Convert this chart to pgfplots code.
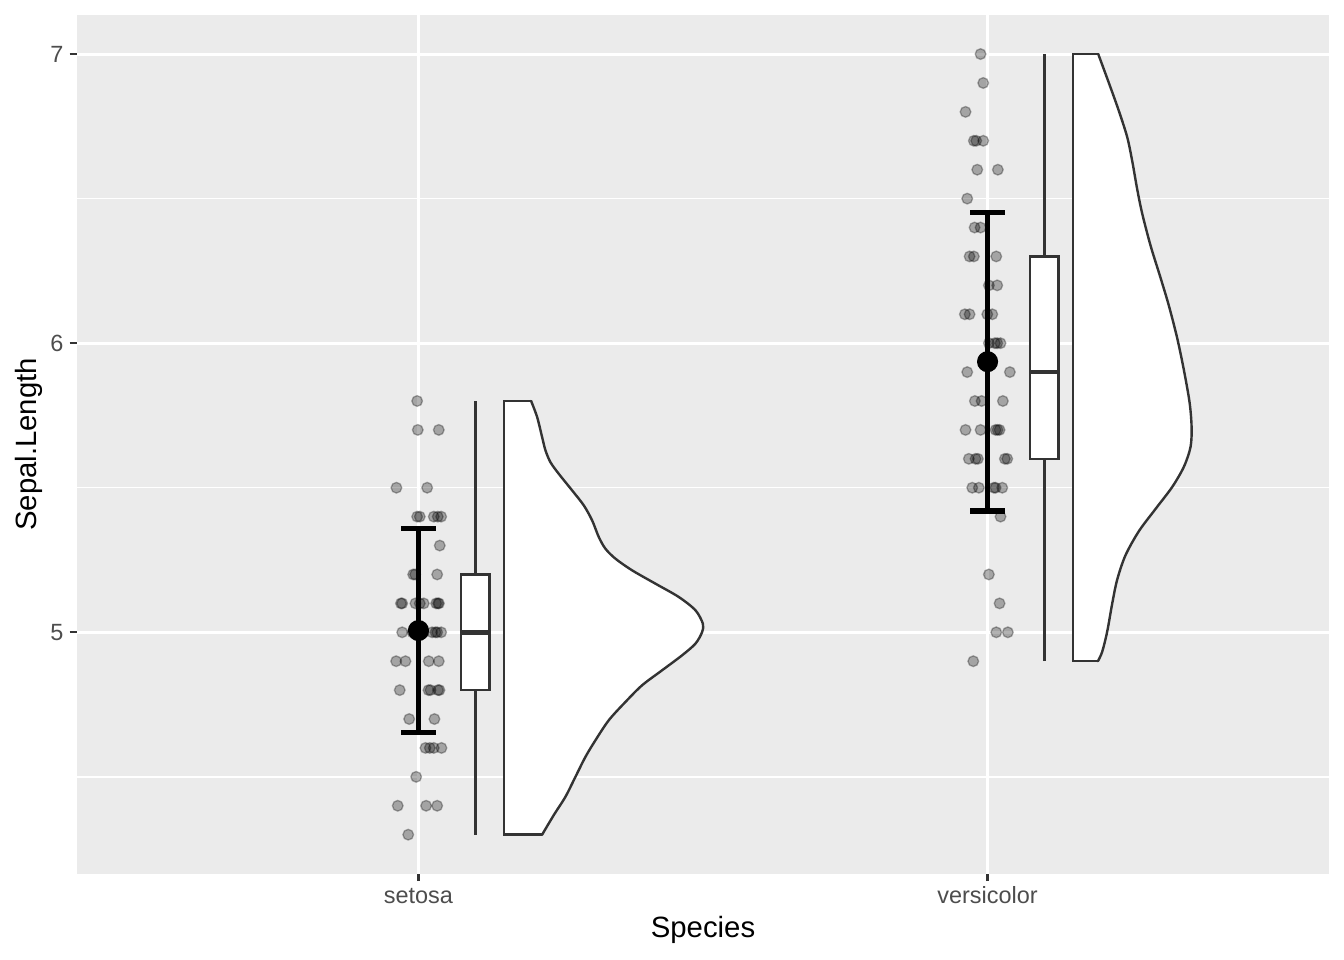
\documentclass[border=0pt]{standalone}
\usepackage{pgfplots}
\pgfplotsset{compat=1.18}
\usepackage{fontspec}
\setmainfont{Liberation Sans}
\definecolor{panelbg}{HTML}{EBEBEB}
\definecolor{grey30}{HTML}{4D4D4D}
\definecolor{grey20}{HTML}{333333}

\pgfplotstableread{
x y
0.9977 5.8
0.9988 5.7
1.0357 5.7
0.9613 5.5
1.0153 5.5
0.9977 5.4
1.0023 5.4
1.0269 5.4
1.0339 5.4
1.0399 5.4
1.0374 5.3
0.9907 5.2
0.9942 5.2
1.0329 5.2
0.9692 5.1
0.9714 5.1
0.9947 5.1
1.0023 5.1
1.0093 5.1
1.0311 5.1
1.0343 5.1
1.0360 5.1
0.9714 5.0
0.9895 5.0
1.0000 5.0
1.0088 5.0
1.0240 5.0
1.0298 5.0
1.0329 5.0
1.0399 5.0
0.9608 4.9
0.9772 4.9
1.0181 4.9
1.0357 4.9
0.9671 4.8
1.0176 4.8
1.0211 4.8
1.0343 4.8
1.0369 4.8
0.9837 4.7
1.0281 4.7
1.0123 4.6
1.0199 4.6
1.0269 4.6
1.0404 4.6
0.9960 4.5
0.9636 4.4
1.0135 4.4
1.0329 4.4
0.9820 4.3
}\setosapts

\pgfplotstableread{
x y
1.9877 7.0
1.9924 6.9
1.9613 6.8
1.9759 6.7
1.9801 6.7
1.9924 6.7
1.9819 6.6
2.0181 6.6
1.9643 6.5
1.9772 6.4
1.9877 6.4
1.9684 6.3
1.9759 6.3
2.0153 6.3
2.0023 6.2
2.0170 6.2
1.9601 6.1
1.9684 6.1
1.9995 6.1
2.0083 6.1
2.0023 6.0
2.0128 6.0
2.0170 6.0
2.0228 6.0
1.9643 5.9
2.0392 5.9
1.9777 5.8
1.9895 5.8
2.0269 5.8
1.9613 5.7
1.9877 5.7
2.0141 5.7
2.0176 5.7
2.0211 5.7
1.9671 5.6
1.9789 5.6
1.9830 5.6
2.0304 5.6
2.0346 5.6
1.9731 5.5
1.9847 5.5
2.0111 5.5
2.0141 5.5
2.0258 5.5
2.0228 5.4
2.0023 5.2
2.0211 5.1
2.0153 5.0
2.0357 5.0
1.9749 4.9
}\versipts

% full half-violin outlines (left edge + density side)
\pgfplotstableread{
x y
1.150 5.8
1.198 5.8
1.2086 5.744
1.2173 5.675
1.2232 5.629
1.2320 5.588
1.2466 5.548
1.2701 5.4905
1.2906 5.4387
1.3052 5.3869
1.3169 5.3293
1.3286 5.289
1.3462 5.2545
1.3755 5.2142
1.4165 5.1681
1.4575 5.122
1.4868 5.076
1.4997 5.030
1.4985 5.001
1.4868 4.961
1.4634 4.9206
1.4282 4.8687
1.3931 4.8169
1.3638 4.7593
1.3345 4.696
1.3111 4.6269
1.2935 4.5694
1.2759 4.5003
1.2583 4.4312
1.2378 4.3679
1.2173 4.3
1.150 4.3
}\setosafull

\pgfplotstableread{
x y
1.198 5.8
1.2086 5.744
1.2173 5.675
1.2232 5.629
1.2320 5.588
1.2466 5.548
1.2701 5.4905
1.2906 5.4387
1.3052 5.3869
1.3169 5.3293
1.3286 5.289
1.3462 5.2545
1.3755 5.2142
1.4165 5.1681
1.4575 5.122
1.4868 5.076
1.4997 5.030
1.4985 5.001
1.4868 4.961
1.4634 4.9206
1.4282 4.8687
1.3931 4.8169
1.3638 4.7593
1.3345 4.696
1.3111 4.6269
1.2935 4.5694
1.2759 4.5003
1.2583 4.4312
1.2378 4.3679
1.2173 4.3
}\setosaviolin

\pgfplotstableread{
x y
2.150 7.0
2.1945 7.0
2.2132 6.900
2.2308 6.803
2.2455 6.712
2.2543 6.629
2.2630 6.532
2.2718 6.448
2.2865 6.337
2.3040 6.226
2.3187 6.129
2.3333 6.017
2.3451 5.906
2.3550 5.795
2.3585 5.712
2.3568 5.642
2.3451 5.573
2.3246 5.503
2.2953 5.427
2.2660 5.350
2.2425 5.267
2.2279 5.183
2.2191 5.100
2.2103 5.003
2.2015 4.933
2.1939 4.9
2.150 4.9
}\versifull

\pgfplotstableread{
x y
2.1945 7.0
2.2132 6.900
2.2308 6.803
2.2455 6.712
2.2543 6.629
2.2630 6.532
2.2718 6.448
2.2865 6.337
2.3040 6.226
2.3187 6.129
2.3333 6.017
2.3451 5.906
2.3550 5.795
2.3585 5.712
2.3568 5.642
2.3451 5.573
2.3246 5.503
2.2953 5.427
2.2660 5.350
2.2425 5.267
2.2279 5.183
2.2191 5.100
2.2103 5.003
2.2015 4.933
2.1939 4.9
}\versiviolin

\begin{document}
\begin{tikzpicture}
\path[use as bounding box] (0,0) rectangle (504bp,360bp);
\begin{axis}[
  at={(28.875bp,32.36bp)}, anchor=south west,
  scale only axis, width=469.5bp, height=322bp,
  xmin=0.4, xmax=2.6, ymin=4.165, ymax=7.135,
  axis background/.style={fill=panelbg},
  axis line style={draw=none},
  xtick={1,2}, xticklabels={setosa,versicolor},
  ytick={5,6,7}, minor ytick={4.5,5.5,6.5},
  xtick pos=bottom, ytick pos=left,
  grid=both,
  major grid style={white, line width=1.1bp},
  minor grid style={white, line width=0.55bp},
  tick align=outside, major tick length=2.75bp, minor tick length=0pt,
  major tick style={grey20, line width=0.8bp},
  /pgf/number format/assume math mode=true,
  xticklabel style={font=\fontsize{8.8bp}{10bp}\selectfont, text=grey30, inner sep=0pt, anchor=base, yshift=-8.3bp},
  yticklabel style={font=\fontsize{8.8bp}{10bp}\selectfont, text=grey30, inner sep=0pt, anchor=east, xshift=-2.1bp},
  xlabel={Species}, ylabel={Sepal.Length},
  xlabel style={at={(axis description cs:0.5,-0.0745)}, anchor=base, inner sep=0pt, font=\fontsize{11bp}{13bp}\selectfont},
  ylabel style={at={(axis description cs:-0.032,0.5)}, anchor=base, inner sep=0pt, font=\fontsize{11bp}{13bp}\selectfont},
]
% half violins: straight-fill body, smooth fill of density side, then outlines
\addplot[fill=white, draw=none] table[x=x,y=y] {\setosafull} --cycle;
\addplot[fill=white, draw=none, smooth, tension=0.5] table[x=x,y=y] {\setosaviolin} --cycle;
\addplot[draw=grey20, line width=0.9bp, smooth, tension=0.5, line cap=round] table[x=x,y=y] {\setosaviolin};
\addplot[draw=grey20, line width=0.9bp, line cap=round, line join=miter] coordinates {(1.198,5.8) (1.150,5.8) (1.150,4.3) (1.2173,4.3)};

\addplot[fill=white, draw=none] table[x=x,y=y] {\versifull} --cycle;
\addplot[fill=white, draw=none, smooth, tension=0.5] table[x=x,y=y] {\versiviolin} --cycle;
\addplot[draw=grey20, line width=0.9bp, smooth, tension=0.5, line cap=round] table[x=x,y=y] {\versiviolin};
\addplot[draw=grey20, line width=0.9bp, line cap=round, line join=miter] coordinates {(2.1945,7.0) (2.150,7.0) (2.150,4.9) (2.1939,4.9)};
% boxplots
\addplot[grey20, line width=0.9bp] coordinates {(1.1,4.3) (1.1,4.8)};
\addplot[grey20, line width=0.9bp] coordinates {(1.1,5.2) (1.1,5.8)};
\addplot[draw=grey20, fill=white, line width=0.9bp] coordinates {(1.075,4.8) (1.125,4.8) (1.125,5.2) (1.075,5.2)} --cycle;
\addplot[grey20, line width=1.7bp] coordinates {(1.075,5.0) (1.125,5.0)};
\addplot[grey20, line width=0.9bp] coordinates {(2.1,4.9) (2.1,5.6)};
\addplot[grey20, line width=0.9bp] coordinates {(2.1,6.3) (2.1,7.0)};
\addplot[draw=grey20, fill=white, line width=0.9bp] coordinates {(2.075,5.6) (2.125,5.6) (2.125,6.3) (2.075,6.3)} --cycle;
\addplot[grey20, line width=1.7bp] coordinates {(2.075,5.9) (2.125,5.9)};
% jittered points
\addplot[only marks, mark=*, mark size=2.0bp, mark options={draw=black, fill=black, opacity=0.3, line width=0.5bp}] table[x=x,y=y] {\setosapts};
\addplot[only marks, mark=*, mark size=2.0bp, mark options={draw=black, fill=black, opacity=0.3, line width=0.5bp}] table[x=x,y=y] {\versipts};
% mean +- sd
\addplot[black, line width=2.1bp] coordinates {(1,4.6535) (1,5.3585)};
\addplot[black, line width=2.1bp] coordinates {(0.97,5.3585) (1.03,5.3585)};
\addplot[black, line width=2.1bp] coordinates {(0.97,4.6535) (1.03,4.6535)};
\addplot[only marks, mark=*, mark size=3.75bp, black] coordinates {(1,5.006)};
\addplot[black, line width=2.1bp] coordinates {(2,5.4198) (2,6.4522)};
\addplot[black, line width=2.1bp] coordinates {(1.97,6.4522) (2.03,6.4522)};
\addplot[black, line width=2.1bp] coordinates {(1.97,5.4198) (2.03,5.4198)};
\addplot[only marks, mark=*, mark size=3.75bp, black] coordinates {(2,5.936)};
\end{axis}
\end{tikzpicture}
\end{document}
